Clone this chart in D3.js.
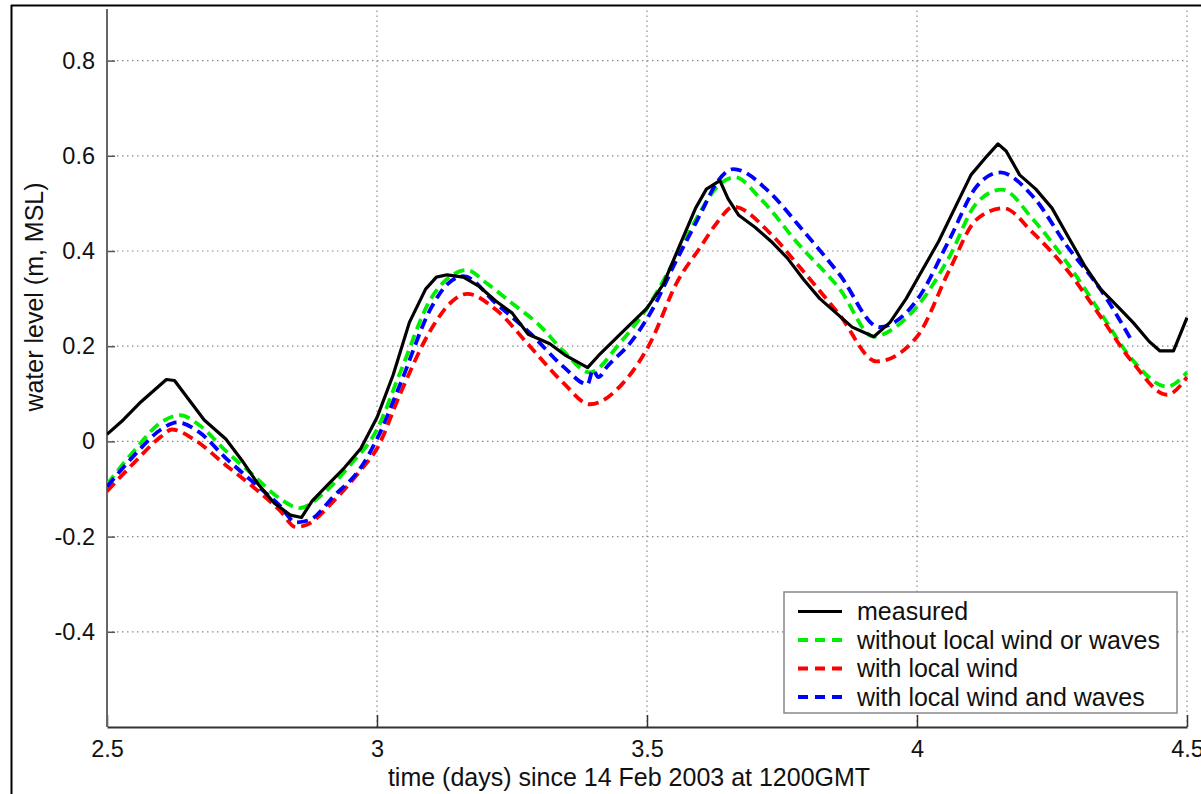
<!DOCTYPE html>
<html>
<head>
<meta charset="utf-8">
<script src="https://cdn.jsdelivr.net/npm/d3@7"></script>
<style>
  html, body { margin: 0; padding: 0; background: #fff; }
  svg { display: block; }
  text { font-family: "Liberation Sans", Arial, Helvetica, sans-serif; fill: #111; }
</style>
</head>
<body>
<svg id="chart" width="1201" height="794"></svg>
<script>
// ---- data ----
const xTicks = [2.5, 3, 3.5, 4, 4.5];
const yTicks = [-0.4, -0.2, 0, 0.2, 0.4, 0.6, 0.8];
const xTickLabels = ["2.5", "3", "3.5", "4", "4.5"];
const yTickLabels = ["-0.4", "-0.2", "0", "0.2", "0.4", "0.6", "0.8"];

const measuredT = [2.50,2.53,2.56,2.59,2.61,2.625,2.65,2.68,2.72,2.75,2.78,2.81,2.84,2.86,2.88,2.91,2.94,2.97,3.00,3.03,3.06,3.09,3.11,3.13,3.16,3.19,3.22,3.25,3.28,3.30,3.32,3.35,3.39,3.41,3.45,3.50,3.53,3.56,3.59,3.61,3.635,3.65,3.67,3.70,3.73,3.76,3.79,3.82,3.85,3.88,3.92,3.95,3.98,4.00,4.04,4.07,4.10,4.13,4.15,4.165,4.19,4.22,4.25,4.28,4.31,4.34,4.37,4.40,4.43,4.45,4.475,4.50];
const measuredV = [0.015,0.045,0.08,0.11,0.13,0.128,0.09,0.045,0.005,-0.04,-0.09,-0.13,-0.155,-0.16,-0.125,-0.09,-0.055,-0.015,0.05,0.14,0.25,0.32,0.345,0.35,0.345,0.325,0.295,0.27,0.225,0.215,0.205,0.18,0.155,0.18,0.225,0.28,0.33,0.41,0.49,0.53,0.548,0.51,0.475,0.45,0.42,0.385,0.34,0.30,0.27,0.24,0.22,0.25,0.30,0.34,0.42,0.49,0.56,0.60,0.625,0.61,0.56,0.53,0.49,0.43,0.37,0.32,0.285,0.25,0.21,0.19,0.19,0.26];

const noWindT = [2.50,2.55,2.60,2.635,2.67,2.72,2.77,2.82,2.857,2.90,2.95,3.00,3.043,3.10,3.14,3.167,3.20,3.25,3.30,3.345,3.394,3.45,3.50,3.56,3.60,3.63,3.663,3.71,3.78,3.857,3.92,3.96,4.00,4.06,4.11,4.157,4.215,4.278,4.34,4.40,4.463,4.50];
const noWindV = [-0.09,-0.02,0.04,0.055,0.035,-0.02,-0.07,-0.12,-0.14,-0.11,-0.05,0.025,0.145,0.30,0.35,0.36,0.335,0.29,0.245,0.19,0.145,0.207,0.28,0.40,0.485,0.535,0.555,0.51,0.415,0.32,0.22,0.24,0.283,0.388,0.50,0.529,0.466,0.375,0.27,0.17,0.115,0.145];

const windT = [2.50,2.55,2.60,2.62,2.66,2.72,2.77,2.82,2.85,2.87,2.92,2.97,3.00,3.043,3.10,3.14,3.167,3.22,3.283,3.345,3.394,3.456,3.506,3.555,3.60,3.63,3.66,3.73,3.78,3.857,3.925,4.00,4.06,4.11,4.16,4.215,4.278,4.34,4.40,4.463,4.50];
const windV = [-0.105,-0.045,0.01,0.025,0.005,-0.05,-0.095,-0.145,-0.18,-0.175,-0.125,-0.06,-0.015,0.10,0.235,0.295,0.31,0.277,0.20,0.123,0.078,0.123,0.207,0.333,0.41,0.46,0.493,0.435,0.37,0.265,0.168,0.22,0.36,0.466,0.49,0.438,0.36,0.262,0.165,0.098,0.135];

const windWavesT = [2.50,2.55,2.60,2.63,2.67,2.72,2.77,2.82,2.85,2.875,2.92,2.97,3.00,3.043,3.10,3.13,3.16,3.22,3.283,3.345,3.39,3.40,3.41,3.426,3.469,3.51,3.55,3.60,3.63,3.66,3.73,3.78,3.857,3.93,4.00,4.06,4.11,4.154,4.215,4.278,4.34,4.40];
const windWavesV = [-0.095,-0.03,0.025,0.04,0.02,-0.035,-0.085,-0.135,-0.17,-0.165,-0.115,-0.055,0.005,0.12,0.28,0.33,0.347,0.29,0.228,0.157,0.12,0.15,0.135,0.157,0.207,0.277,0.37,0.48,0.545,0.572,0.52,0.455,0.35,0.24,0.297,0.424,0.535,0.565,0.514,0.41,0.319,0.207];

const seriesNames = ["measured", "without local wind or waves", "with local wind", "with local wind and waves"];
const seriesColors = ["#000000", "#00ee00", "#ff0000", "#0000ff"];

const xLabel = "time (days) since 14 Feb 2003 at 1200GMT";
const yLabel = "water level (m, MSL)";

// ---- layout ----
const L = 107, R = 1187, T = 13, B = 727;
const svg = d3.select("#chart");

const x = d3.scaleLinear().domain([2.5, 4.5]).range([L, R]);
const y = d3.scaleLinear().domain([-0.6, 0.9]).range([B, T]);

// outer frame
svg.append("line").attr("x1", 11).attr("x2", 1201).attr("y1", 5.5).attr("y2", 5.5)
  .attr("stroke", "#000").attr("stroke-width", 2);
svg.append("line").attr("x1", 11.5).attr("x2", 11.5).attr("y1", 5).attr("y2", 794)
  .attr("stroke", "#000").attr("stroke-width", 2);

// grid
const grid = svg.append("g").attr("stroke", "#8a8a8a").attr("stroke-width", 1.2)
  .attr("stroke-dasharray", "1.5,3.5");
xTicks.filter(d => d > 2.5).forEach(d => {
  grid.append("line").attr("x1", x(d)).attr("x2", x(d)).attr("y1", B).attr("y2", 9);
});
yTicks.forEach(d => {
  grid.append("line").attr("x1", L).attr("x2", R).attr("y1", y(d)).attr("y2", y(d));
});

// axes
const xAxis = d3.axisBottom(x).tickValues(xTicks)
  .tickFormat((d, i) => xTickLabels[i]).tickSizeInner(-12).tickSizeOuter(0).tickPadding(13);
const gx = svg.append("g").attr("transform", `translate(0,${B})`).call(xAxis);
gx.select(".domain").attr("stroke", "#333").attr("stroke-width", 2);
gx.selectAll(".tick line").attr("stroke", "#333").attr("stroke-width", 1.5);
gx.selectAll("text").attr("font-size", 23.5).attr("fill", "#111")
  .style("font-family", '"Liberation Sans", Arial, sans-serif');

const yAxis = d3.axisLeft(y).tickValues(yTicks)
  .tickFormat((d, i) => yTickLabels[i]).tickSizeInner(-8).tickSizeOuter(0).tickPadding(12);
const gy = svg.append("g").attr("transform", `translate(${L},0)`).call(yAxis);
gy.select(".domain").remove();
gy.selectAll(".tick line").attr("stroke", "#555").attr("stroke-width", 1.5);
gy.selectAll("text").attr("font-size", 23.5).attr("fill", "#111")
  .style("font-family", '"Liberation Sans", Arial, sans-serif');
svg.append("line").attr("x1", L).attr("x2", L).attr("y1", B).attr("y2", 9)
  .attr("stroke", "#666").attr("stroke-width", 2);

// clip
svg.append("clipPath").attr("id", "plotclip").append("rect")
  .attr("x", L).attr("y", 9).attr("width", R - L + 1).attr("height", B - 9);

const plot = svg.append("g").attr("clip-path", "url(#plotclip)");

function drawSeries(ts, vs, color, dashed, curve) {
  const pts = ts.map((t, i) => [t, vs[i]]);
  const line = d3.line().x(d => x(d[0])).y(d => y(d[1])).curve(curve);
  const p = plot.append("path").datum(pts).attr("d", line)
    .attr("fill", "none").attr("stroke", color)
    .attr("stroke-width", dashed ? 3.8 : 3.2)
    .attr("stroke-linejoin", "round");
  if (dashed) p.attr("stroke-dasharray", "11,6");
}

drawSeries(noWindT, noWindV, seriesColors[1], true, d3.curveMonotoneX);
drawSeries(windT, windV, seriesColors[2], true, d3.curveMonotoneX);
drawSeries(windWavesT, windWavesV, seriesColors[3], true, d3.curveMonotoneX);
drawSeries(measuredT, measuredV, seriesColors[0], false, d3.curveLinear);

// axis labels
svg.append("text").attr("x", 629).attr("y", 786).attr("text-anchor", "middle")
  .attr("font-size", 25).text(xLabel);
svg.append("text").attr("transform", `translate(43,297) rotate(-90)`)
  .attr("text-anchor", "middle").attr("font-size", 25).text(yLabel);

// legend
const lg = svg.append("g");
lg.append("rect").attr("x", 784).attr("y", 592).attr("width", 393).attr("height", 121)
  .attr("fill", "#fff").attr("stroke", "#888").attr("stroke-width", 1.5);
const rowY = [611.5, 640, 668.5, 697];
seriesNames.forEach((name, i) => {
  const l = lg.append("line").attr("x1", 798).attr("x2", 842).attr("y1", rowY[i]).attr("y2", rowY[i])
    .attr("stroke", seriesColors[i]).attr("stroke-width", i === 0 ? 3.2 : 3.8);
  if (i > 0) l.attr("stroke-dasharray", "10,7");
  lg.append("text").attr("x", 857).attr("y", rowY[i]).attr("dy", "0.35em")
    .attr("font-size", 25).text(name);
});
</script>
</body>
</html>
